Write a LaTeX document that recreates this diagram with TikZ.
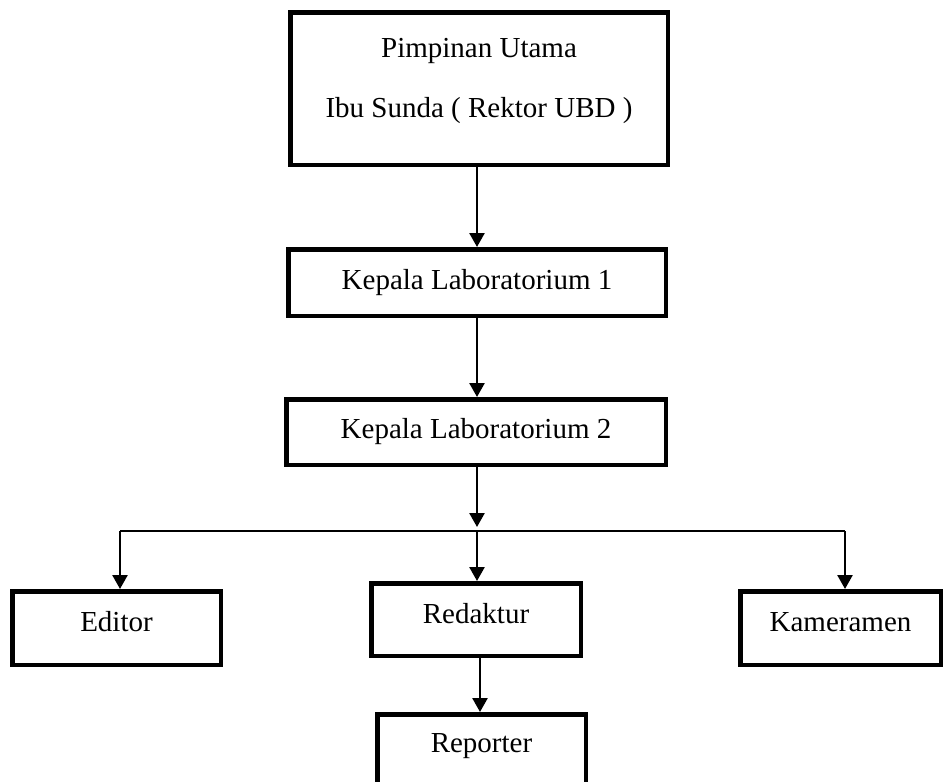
\documentclass[tikz,border=0pt]{standalone}
\usepackage{fontspec}
\setmainfont{Liberation Serif}
\usetikzlibrary{arrows.meta}
\tikzset{
  box/.style={draw=black, line width=4.5pt, inner sep=0pt, fill=white,
    font=\fontsize{29}{34}\selectfont},
  lbl/.style={inner sep=0pt, font=\fontsize{29}{34}\selectfont},
  arr/.style={line width=2.6pt, -{Triangle[width=15pt,length=14pt]}},
  bus/.style={line width=2.2pt},
  upshift/.style={text height=20pt, text depth=13pt}
}
\begin{document}
\begin{tikzpicture}[x=1pt,y=-1pt]
\useasboundingbox (0,0) rectangle (943,782);
\clip (0,0) rectangle (943,782);
% boxes
\node[box, minimum width=377.5pt, minimum height=152.5pt] (top) at (479,88.5) {};
\node[lbl, anchor=base] (t1) at (479,57) {Pimpinan Utama};
\node[lbl, anchor=base] (t2) at (479,117) {Ibu Sunda ( Rektor UBD )};
\node[box, minimum width=377.5pt, minimum height=66.5pt] (k1) at (477,282.5) {Kepala Laboratorium 1};
\node[box, minimum width=379.5pt, minimum height=65.5pt] (k2) at (476,432) {Kepala Laboratorium 2};
\node[box, upshift, minimum width=208.5pt, minimum height=73.5pt] (ed) at (116.5,628) {Editor};
\node[box, upshift, minimum width=209.5pt, minimum height=72.5pt] (red) at (476,619.5) {Redaktur};
\node[box, upshift, minimum width=200.5pt, minimum height=73.5pt] (kam) at (840.5,628) {Kameramen};
\node[box, text height=19pt, text depth=33pt, minimum width=208.5pt, minimum height=90pt] (rep) at (481.5,759.25) {Reporter};
% connectors
\coordinate (jm) at (477,531);
\coordinate (jl) at (120,531);
\coordinate (jr) at (845,531);
\coordinate (jt) at (477,527);
\draw[arr] (top.south -| jm) -- (jm |- k1.north);
\draw[arr] (k1.south -| jm) -- (jm |- k2.north);
\draw[arr] (k2.south -| jt) -- (jt);
\draw[bus] (jl) -- (jr);
\draw[arr] (jl) -- (jl |- ed.north);
\draw[arr] (jm) -- (jm |- red.north);
\draw[arr] (jr) -- (jr |- kam.north);
\draw[arr] (red.south -| 480,0) -- (480,0 |- rep.north);
\end{tikzpicture}
\end{document}
